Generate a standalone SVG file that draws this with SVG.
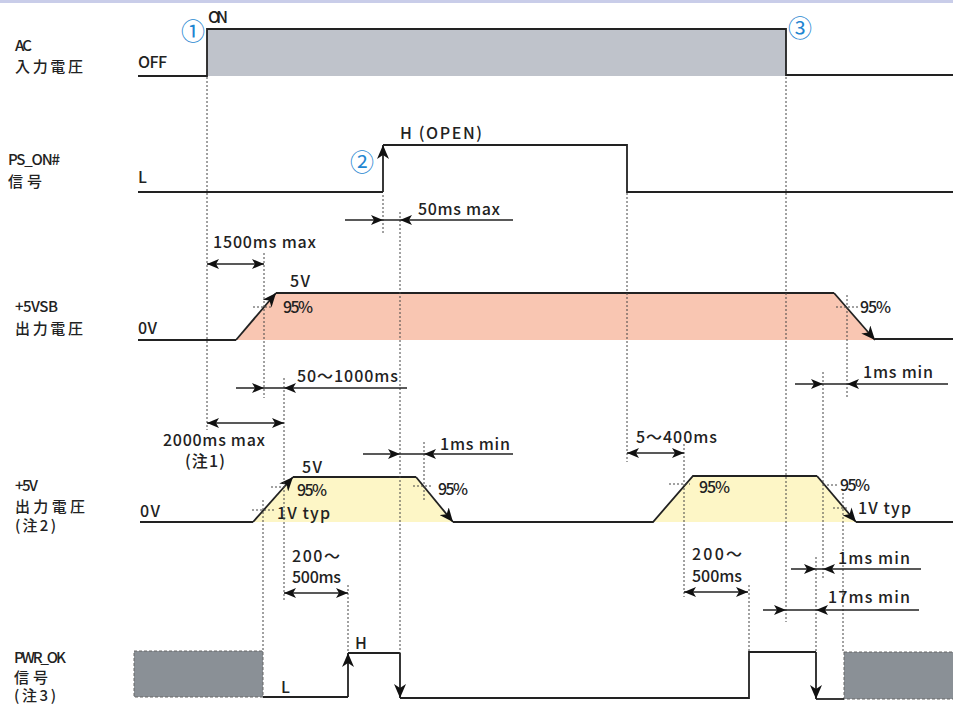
<svg xmlns="http://www.w3.org/2000/svg" width="953" height="708" viewBox="0 0 953 708">
<style>
text{font-family:"Noto Sans CJK JP","Liberation Sans",sans-serif;font-size:16px;font-weight:500;fill:#222}
text.lab{font-size:15px}
.sig{fill:none;stroke:#222;stroke-width:1.8}
.dot{fill:none;stroke:#444;stroke-width:1;stroke-dasharray:2 2}
.dim{fill:none;stroke:#222;stroke-width:1.5}
text.num{fill:#1f86d1;font-size:24px;font-weight:400}
</style>
<defs>
<marker id="ah" viewBox="0 0 14 12" refX="14" refY="6" markerWidth="14" markerHeight="12" markerUnits="userSpaceOnUse" orient="auto"><path d="M0,0 L14,6 L0,12 L4,6 Z" fill="#111"/></marker>
<marker id="ad" viewBox="0 0 12 10" refX="12" refY="5" markerWidth="12" markerHeight="10" markerUnits="userSpaceOnUse" orient="auto-start-reverse"><path d="M0,0 L12,5 L0,10 L3,5 Z" fill="#111"/></marker>
</defs>
<rect x="0" y="0" width="953" height="3" fill="#c9cde9"/>

<g id="ac">
<rect x="207" y="29" width="579" height="47" fill="#bfc3cb"/>
<path class="sig" d="M138,76 H207 V29 H786 V75 H953"/>
<text x="208" y="23" textLength="20">ON</text>
<text class="lab" x="15" y="51" textLength="17">AC</text>
<text class="lab" x="15" y="72" textLength="68">入力電圧</text>
<text x="138" y="68" textLength="29">OFF</text>
<text class="num" x="193" y="40" text-anchor="middle">①</text>
<text class="num" x="800" y="37" text-anchor="middle">③</text>
</g>

<g id="ps-on">
<path class="sig" d="M138,192 H383"/>
<path class="sig" d="M383,192 V145" marker-end="url(#ah)"/>
<path class="sig" d="M383,145 H627 V192 H953"/>
<text class="lab" x="8" y="165" textLength="52">PS_ON#</text>
<text class="lab" x="8" y="187" textLength="34">信号</text>
<text x="138" y="183">L</text>
<text x="400" y="139" textLength="82">H (OPEN)</text>
<text class="num" x="362" y="171" text-anchor="middle">②</text>
</g>

<g id="vsb">
<polygon points="236,340 276,293 834,293 875,340" fill="#f9c6b2"/>
<path class="sig" d="M138,340 H236"/>
<path class="sig" d="M236,340 L276,293" marker-end="url(#ah)"/>
<path class="sig" d="M276,293 H834"/>
<path class="sig" d="M834,293 L875,340" marker-end="url(#ah)"/>
<path class="sig" d="M875,339 H953"/>
<text class="lab" x="15" y="312" textLength="43">+5VSB</text>
<text class="lab" x="15" y="334" textLength="68">出力電圧</text>
<text x="138" y="334" textLength="19">0V</text>
<text x="290" y="287" textLength="20">5V</text>
<text x="283" y="313" textLength="30">95%</text>
<text x="860" y="313" textLength="31">95%</text>
</g>

<g id="v5">
<polygon points="253,522 293,477 416,477 453,522" fill="#fdf6c6"/>
<polygon points="653,522 693,476 817,476 856,522" fill="#fdf6c6"/>
<path class="sig" d="M140,522 H253"/>
<path class="sig" d="M253,522 L293,477" marker-end="url(#ah)"/>
<path class="sig" d="M293,477 H416"/>
<path class="sig" d="M416,477 L453,522" marker-end="url(#ah)"/>
<path class="sig" d="M453,522 H653 L693,476 H817"/>
<path class="sig" d="M817,476 L856,522" marker-end="url(#ah)"/>
<path class="sig" d="M856,522 H953"/>
<text class="lab" x="15" y="491" textLength="23">+5V</text>
<text class="lab" x="15" y="512" textLength="70">出力電圧</text>
<text class="lab" x="15" y="531" textLength="41">(注2)</text>
<text x="140" y="517" textLength="20">0V</text>
<text x="302" y="473" textLength="20">5V</text>
<text x="297" y="496" textLength="30">95%</text>
<text x="277" y="519" textLength="53">1V typ</text>
<text x="438" y="495" textLength="30">95%</text>
<text x="699" y="493" textLength="31">95%</text>
<text x="840" y="491" textLength="30">95%</text>
<text x="858" y="514" textLength="53">1V typ</text>
</g>

<g id="pwr-ok">
<rect x="134" y="651" width="129" height="46" fill="#8a9096" stroke="#666" stroke-width="1" stroke-dasharray="3 2"/>
<rect x="844" y="652" width="112" height="47" fill="#8a9096" stroke="#666" stroke-width="1" stroke-dasharray="3 2"/>
<path class="sig" d="M263,697 H348"/>
<path class="sig" d="M348,697 V653" marker-end="url(#ah)"/>
<path class="sig" d="M348,653 H400"/>
<path class="sig" d="M400,653 V698" marker-end="url(#ah)"/>
<path class="sig" d="M400,698 H749 V652 H816"/>
<path class="sig" d="M816,652 V699" marker-end="url(#ah)"/>
<path class="sig" d="M816,699 H844"/>
<text class="lab" x="14" y="663" textLength="52">PWR_OK</text>
<text class="lab" x="14" y="683" textLength="34">信号</text>
<text class="lab" x="14" y="701" textLength="42">(注3)</text>
<text x="355" y="649">H</text>
<text x="281" y="693">L</text>
</g>

<g id="connectors">
<path class="dot" d="M207,77 V430 M383,195 V233 M400,212 V653 M264,253 V398 M263,500 V651 M284,378 V602 M348,585 V652 M424,442 V502 M627,193 V462 M684,444 V597 M786,77 V622 M823,372 V579 M847,295 V397 M843,493 V652 M816,557 V652 M749,585 V652"/>
<path class="dot" d="M253,307 H273 M836,307 H858 M271,487 H288 M252,510 H275 M413,486 H432 M669,484 H690 M823,485 H838 M833,508 H848"/>

<path class="dim" d="M345,220 H383" marker-end="url(#ad)"/>
<path class="dim" d="M383,220 H400"/>
<path class="dim" d="M513,220 H400" marker-end="url(#ad)"/>
<text x="418" y="215" textLength="82">50ms max</text>

<path class="dim" d="M207,264 H264" marker-start="url(#ad)" marker-end="url(#ad)"/>
<text x="213" y="248" textLength="103">1500ms max</text>

<path class="dim" d="M236,388 H264" marker-end="url(#ad)"/>
<path class="dim" d="M264,388 H284"/>
<path class="dim" d="M407,388 H284" marker-end="url(#ad)"/>
<text x="297" y="382" textLength="101">50～1000ms</text>

<path class="dim" d="M795,384 H823" marker-end="url(#ad)"/>
<path class="dim" d="M823,384 H847"/>
<path class="dim" d="M948,384 H847" marker-end="url(#ad)"/>
<text x="863" y="378" textLength="70">1ms min</text>

<path class="dim" d="M207,423 H284" marker-start="url(#ad)" marker-end="url(#ad)"/>
<text x="163" y="446" textLength="102">2000ms max</text>
<text x="185" y="467" textLength="40">(注1)</text>

<path class="dim" d="M363,454 H400" marker-end="url(#ad)"/>
<path class="dim" d="M400,454 H424"/>
<path class="dim" d="M513,454 H424" marker-end="url(#ad)"/>
<text x="440" y="450" textLength="70">1ms min</text>

<path class="dim" d="M627,453 H684" marker-start="url(#ad)" marker-end="url(#ad)"/>
<text x="636" y="443" textLength="81">5～400ms</text>

<path class="dim" d="M284,593 H348" marker-start="url(#ad)" marker-end="url(#ad)"/>
<text x="292" y="562" textLength="48">200～</text>
<text x="292" y="583" textLength="49">500ms</text>

<path class="dim" d="M684,592 H748" marker-start="url(#ad)" marker-end="url(#ad)"/>
<text x="692" y="560" textLength="50">200～</text>
<text x="692" y="582" textLength="50">500ms</text>

<path class="dim" d="M791,569 H816" marker-end="url(#ad)"/>
<path class="dim" d="M816,569 H823"/>
<path class="dim" d="M921,569 H823" marker-end="url(#ad)"/>
<text x="838" y="564" textLength="72">1ms min</text>

<path class="dim" d="M763,610 H786" marker-end="url(#ad)"/>
<path class="dim" d="M786,610 H816"/>
<path class="dim" d="M919,610 H816" marker-end="url(#ad)"/>
<text x="828" y="603" textLength="82">17ms min</text>
</g>
</svg>
